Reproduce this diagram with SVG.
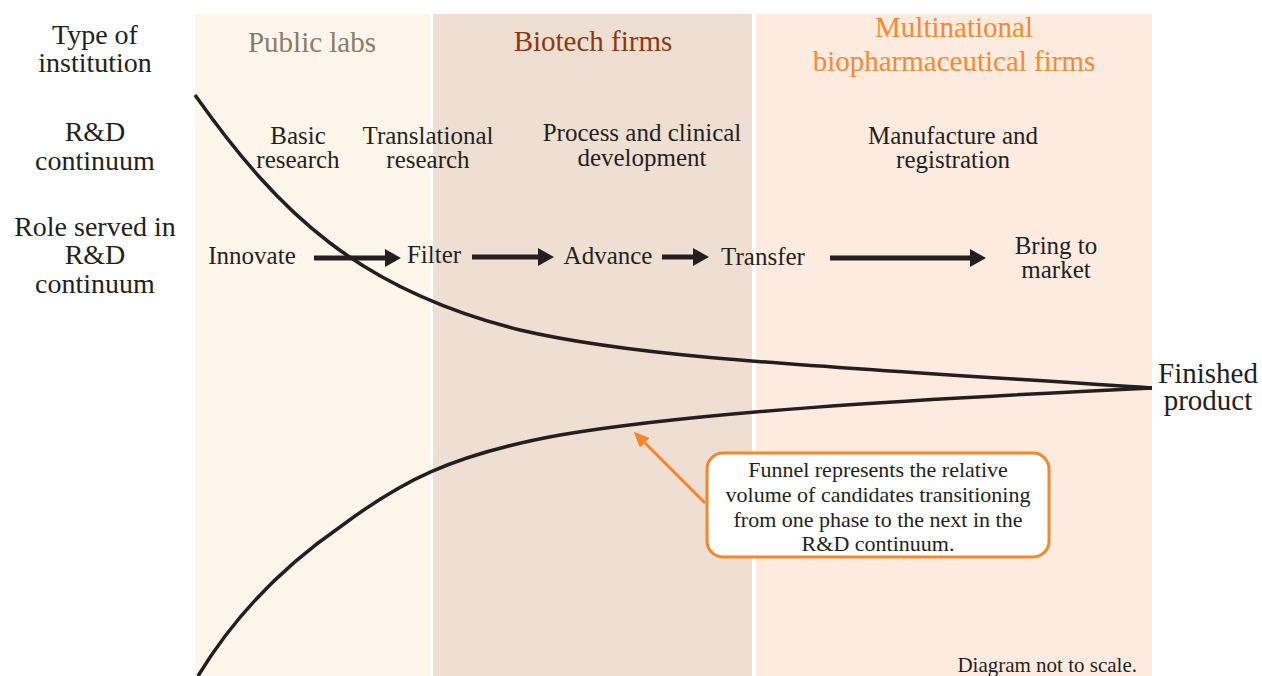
<svg xmlns="http://www.w3.org/2000/svg" width="1262" height="676" viewBox="0 0 1262 676">
<style>
text{font-family:"Liberation Serif","Times New Roman",serif;fill:#231f20;text-anchor:middle}
.lab{font-size:28px}
.hd{font-size:29px}
.rd{font-size:25px}
.co{font-size:22px}
.arr{stroke:#231f20;stroke-width:5;fill:none}
.fun{stroke:#231f20;stroke-width:3.5;fill:none}
</style>
<defs>
<marker id="ah" markerUnits="userSpaceOnUse" markerWidth="16" markerHeight="18" refX="0" refY="9" orient="auto"><path d="M0,0 L16,9 L0,18 z" fill="#231f20"/></marker>
<marker id="oh" markerUnits="userSpaceOnUse" markerWidth="16" markerHeight="14" refX="0" refY="7" orient="auto"><path d="M0,0 L16,7 L0,14 z" fill="#f5862b"/></marker>
</defs>
<rect width="1262" height="676" fill="#ffffff"/>
<g id="panel-public"><rect x="195" y="14" width="235" height="662" fill="#fef6ea"/><text class="hd" x="312" y="52" style="fill:#8c7b66">Public labs</text></g>
<g id="panel-biotech"><rect x="433" y="14" width="319" height="662" fill="#efdfd3"/><text class="hd" x="593" y="51" style="fill:#8b3a0f">Biotech firms</text></g>
<g id="panel-multi"><rect x="756" y="14" width="396" height="662" fill="#feebe0"/><text class="hd" x="954" y="37" style="fill:#f58a33">Multinational</text><text class="hd" x="954" y="71" style="fill:#f58a33">biopharmaceutical firms</text></g>
<g id="row-labels">
<text class="lab" x="95" y="44">Type of</text><text class="lab" x="95" y="72">institution</text>
<text class="lab" x="95" y="141">R&amp;D</text><text class="lab" x="95" y="170">continuum</text>
<text class="lab" x="95" y="236">Role served in</text><text class="lab" x="95" y="264">R&amp;D</text><text class="lab" x="95" y="293">continuum</text>
</g>
<g id="rd-stages">
<text class="rd" x="298" y="144">Basic</text><text class="rd" x="298" y="168">research</text>
<text class="rd" x="428" y="144">Translational</text><text class="rd" x="428" y="168">research</text>
<text class="rd" x="642" y="141">Process and clinical</text><text class="rd" x="642" y="166">development</text>
<text class="rd" x="953" y="144">Manufacture and</text><text class="rd" x="953" y="168">registration</text>
</g>
<g id="funnel">
<path class="fun" d="M195,95 C280,215 360,290 520,330 C640,358 800,365 1152,388"/>
<path class="fun" d="M198,676 C235,615 285,565 340,527 C400,482 450,455 560,435 C700,412 900,400 1152,388"/>
</g>
<g id="node-innovate"><text class="rd" x="252" y="264">Innovate</text></g>
<g id="node-filter"><text class="rd" x="434" y="263">Filter</text></g>
<g id="node-advance"><text class="rd" x="608" y="264">Advance</text></g>
<g id="node-transfer"><text class="rd" x="763" y="265">Transfer</text></g>
<g id="node-market"><text class="rd" x="1056" y="254">Bring to</text><text class="rd" x="1056" y="278">market</text></g>
<g id="node-finished"><text x="1208" y="383" style="font-size:29px">Finished</text><text x="1208" y="410" style="font-size:29px">product</text></g>
<g id="connectors">
<line class="arr" x1="314" y1="258" x2="385" y2="258" marker-end="url(#ah)"/>
<line class="arr" x1="472" y1="257" x2="538" y2="257" marker-end="url(#ah)"/>
<line class="arr" x1="662" y1="257" x2="693" y2="257" marker-end="url(#ah)"/>
<line class="arr" x1="830" y1="258" x2="970" y2="258" marker-end="url(#ah)"/>
<line x1="705" y1="503" x2="645" y2="443" stroke="#f5862b" stroke-width="3" marker-end="url(#oh)"/>
</g>
<g id="callout">
<rect x="707" y="453" width="342" height="104" rx="16" fill="#ffffff" stroke="#f5862b" stroke-width="3"/>
<text class="co" x="878" y="477">Funnel represents the relative</text>
<text class="co" x="878" y="502">volume of candidates transitioning</text>
<text class="co" x="878" y="527">from one phase to the next in the</text>
<text class="co" x="878" y="551">R&amp;D continuum.</text>
</g>
<text x="1137" y="672" style="font-size:21px;text-anchor:end">Diagram not to scale.</text>
</svg>
